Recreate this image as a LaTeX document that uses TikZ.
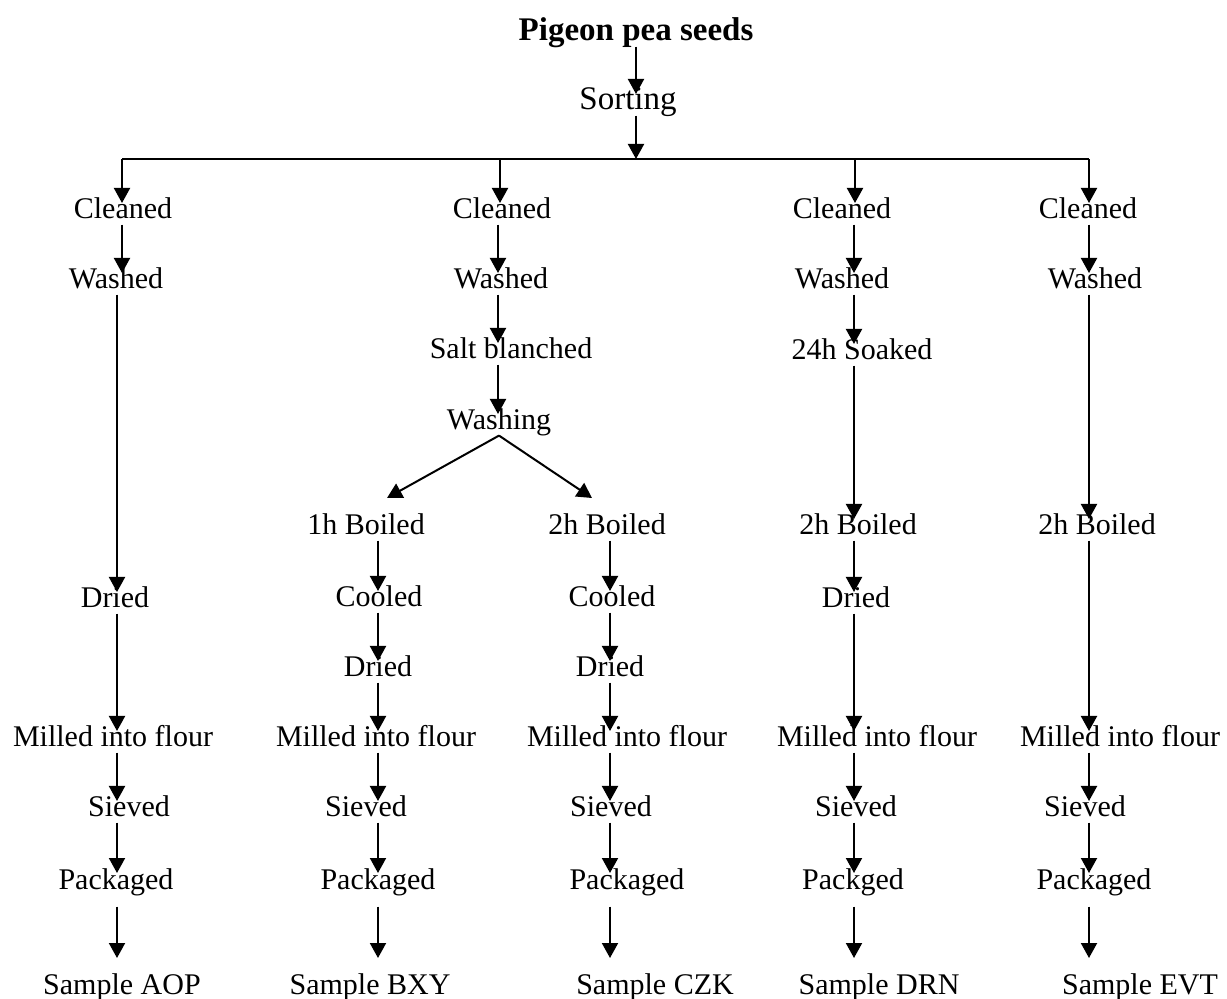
\documentclass[tikz,border=0pt]{standalone}
\usepackage{fontspec}
\setmainfont{Liberation Serif}
\usetikzlibrary{arrows.meta}
\begin{document}
\begin{tikzpicture}[x=0.5pt,y=-0.5pt,
  lbl/.style={inner sep=0pt, text height=0.78em, text depth=0.26em, font=\fontsize{15}{18}\selectfont, anchor=base},
  big/.style={lbl, font=\fontsize{16.5}{20}\selectfont},
  ttl/.style={lbl, font=\fontsize{16.5}{20}\selectfont\bfseries},
  ln/.style={line width=1pt},
  arr/.style={line width=1pt, -{Triangle[length=7.5pt,width=8pt]}},
  last/.style={arr, shorten <=6pt, shorten >=10pt}]
\useasboundingbox (0,0) rectangle (1227,999);

% top
\node[ttl] (seed) at (636,41) {Pigeon pea seeds};
\node[big] (sort) at (628,110) {Sorting};
\coordinate (bar) at (636,159);
\coordinate (d1) at (122,159);
\coordinate (d2) at (500,159);
\coordinate (d3) at (855,159);
\coordinate (d4) at (1089,159);

% column arrow positions
\coordinate (k1) at (117,0);
\coordinate (k2) at (498,0);
\coordinate (k3) at (378,0);
\coordinate (k4) at (610,0);
\coordinate (k5) at (854,0);
\coordinate (k6) at (1089,0);

% column 1
\node[lbl] (cl1) at (123,219) {Cleaned};
\node[lbl] (wa1) at (116,289) {Washed};
\node[lbl] (dr1) at (115,608) {Dried};
\node[lbl] (mi1) at (113,747) {Milled into flour};
\node[lbl] (si1) at (129,817) {Sieved};
\node[lbl] (pa1) at (116,889) {Packaged};
\node[lbl] (sa1) at (122,994) {Sample AOP};

% column 2
\node[lbl] (cl2) at (502,219) {Cleaned};
\node[lbl] (wa2) at (501,289) {Washed};
\node[lbl] (sb2) at (511,359) {Salt blanched};
\node[lbl] (ws2) at (499,430) {Washing};
\coordinate (t1) at (387,498);
\coordinate (t2) at (592,498);
\node[lbl] (b1) at (366,535) {1h Boiled};
\node[lbl] (co1) at (379,607) {Cooled};
\node[lbl] (dr2) at (378,677) {Dried};
\node[lbl] (mi2) at (376,747) {Milled into flour};
\node[lbl] (si2) at (366,817) {Sieved};
\node[lbl] (pa2) at (378,889) {Packaged};
\node[lbl] (sa2) at (370,994) {Sample BXY};
\node[lbl] (b2) at (607,535) {2h Boiled};
\node[lbl] (co2) at (612,607) {Cooled};
\node[lbl] (dr3) at (610,677) {Dried};
\node[lbl] (mi3) at (627,747) {Milled into flour};
\node[lbl] (si3) at (611,817) {Sieved};
\node[lbl] (pa3) at (627,889) {Packaged};
\node[lbl] (sa3) at (655,994) {Sample CZK};

% column 3
\node[lbl] (cl4) at (842,219) {Cleaned};
\node[lbl] (wa4) at (842,289) {Washed};
\node[lbl] (so4) at (862,360) {24h Soaked};
\node[lbl] (b4) at (858,535) {2h Boiled};
\node[lbl] (dr4) at (856,608) {Dried};
\node[lbl] (mi4) at (877,747) {Milled into flour};
\node[lbl] (si4) at (856,817) {Sieved};
\node[lbl] (pa4) at (853,889) {Packged};
\node[lbl] (sa4) at (879,994) {Sample DRN};

% column 4
\node[lbl] (cl5) at (1088,219) {Cleaned};
\node[lbl] (wa5) at (1095,289) {Washed};
\node[lbl] (b5) at (1097,535) {2h Boiled};
\node[lbl] (mi5) at (1120,747) {Milled into flour};
\node[lbl] (si5) at (1085,817) {Sieved};
\node[lbl] (pa5) at (1094,889) {Packaged};
\node[lbl] (sa5) at (1140,994) {Sample EVT};

% top connectors
\draw[arr] (seed.south -| bar) -- (sort.north -| bar);
\draw[arr] (sort.south -| bar) -- (bar);
\draw[ln] (d1) -- (d4);
\draw[arr] (d1) -- (cl1.north -| d1);
\draw[arr] (d2) -- (cl2.north -| d2);
\draw[arr] (d3) -- (cl4.north -| d3);
\draw[arr] (d4) -- (cl5.north -| d4);

% column 1 connectors
\draw[arr] (cl1.south -| d1) -- (wa1.north -| d1);
\draw[arr] (wa1.south -| k1) -- (dr1.north -| k1);
\draw[arr] (dr1.south -| k1) -- (mi1.north -| k1);
\draw[arr] (mi1.south -| k1) -- (si1.north -| k1);
\draw[arr] (si1.south -| k1) -- (pa1.north -| k1);
\draw[last] (pa1.south -| k1) -- (sa1.north -| k1);

% column 2 connectors
\draw[arr] (cl2.south -| k2) -- (wa2.north -| k2);
\draw[arr] (wa2.south -| k2) -- (sb2.north -| k2);
\draw[arr] (sb2.south -| k2) -- (ws2.north -| k2);
\draw[arr] (ws2.south) -- (t1);
\draw[arr] (ws2.south) -- (t2);
\draw[arr] (b1.south -| k3) -- (co1.north -| k3);
\draw[arr] (co1.south -| k3) -- (dr2.north -| k3);
\draw[arr] (dr2.south -| k3) -- (mi2.north -| k3);
\draw[arr] (mi2.south -| k3) -- (si2.north -| k3);
\draw[arr] (si2.south -| k3) -- (pa2.north -| k3);
\draw[last] (pa2.south -| k3) -- (sa2.north -| k3);
\draw[arr] (b2.south -| k4) -- (co2.north -| k4);
\draw[arr] (co2.south -| k4) -- (dr3.north -| k4);
\draw[arr] (dr3.south -| k4) -- (mi3.north -| k4);
\draw[arr] (mi3.south -| k4) -- (si3.north -| k4);
\draw[arr] (si3.south -| k4) -- (pa3.north -| k4);
\draw[last] (pa3.south -| k4) -- (sa3.north -| k4);

% column 3 connectors
\draw[arr] (cl4.south -| k5) -- (wa4.north -| k5);
\draw[arr] (wa4.south -| k5) -- (so4.north -| k5);
\draw[arr] (so4.south -| k5) -- (b4.north -| k5);
\draw[arr] (b4.south -| k5) -- (dr4.north -| k5);
\draw[arr] (dr4.south -| k5) -- (mi4.north -| k5);
\draw[arr] (mi4.south -| k5) -- (si4.north -| k5);
\draw[arr] (si4.south -| k5) -- (pa4.north -| k5);
\draw[last] (pa4.south -| k5) -- (sa4.north -| k5);

% column 4 connectors
\draw[arr] (cl5.south -| k6) -- (wa5.north -| k6);
\draw[arr] (wa5.south -| k6) -- (b5.north -| k6);
\draw[arr] (b5.south -| k6) -- (mi5.north -| k6);
\draw[arr] (mi5.south -| k6) -- (si5.north -| k6);
\draw[arr] (si5.south -| k6) -- (pa5.north -| k6);
\draw[last] (pa5.south -| k6) -- (sa5.north -| k6);
\end{tikzpicture}
\end{document}
